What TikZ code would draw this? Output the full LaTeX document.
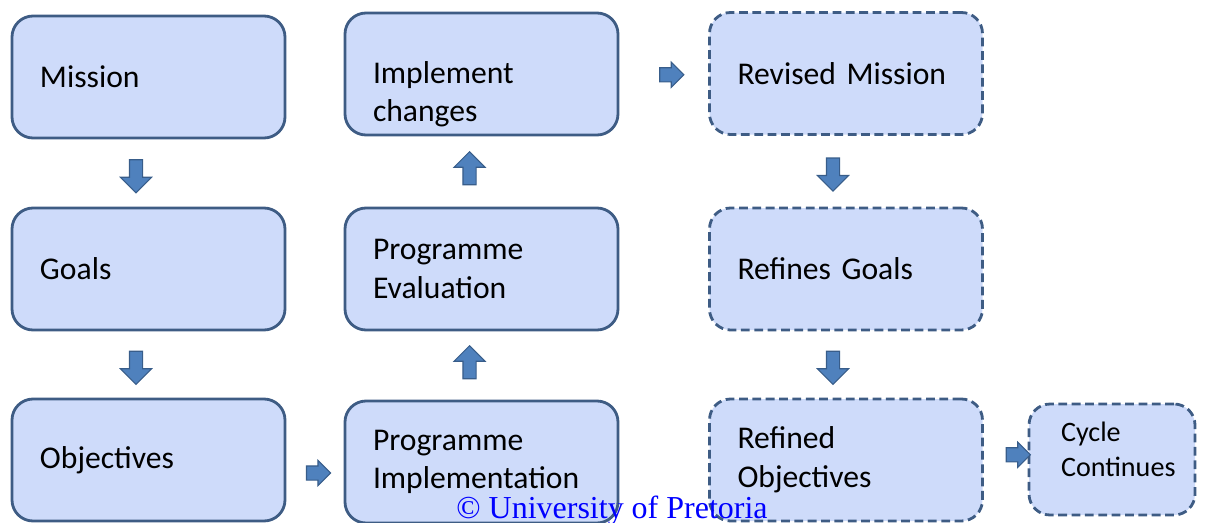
\documentclass[tikz,border=0pt]{standalone}
\usepackage{fontspec}
\setmainfont{Carlito}
\newfontfamily\serifnote{Liberation Serif}
\usepackage{tikz}
\usetikzlibrary{shapes.arrows}
\usetikzlibrary{positioning}
\usetikzlibrary{calc}
\definecolor{boxfill}{RGB}{206,219,250}
\definecolor{boxline}{RGB}{62,92,132}
\definecolor{arrowfill}{RGB}{79,129,189}
\definecolor{arrowline}{RGB}{56,93,138}

\tikzset{
  stage/.style={draw=boxline, fill=boxfill, line width=1.6pt, rounded corners=0.42cm,
    minimum width=5.46cm, minimum height=2.44cm, inner xsep=0.56cm,
    text width=4.34cm, align=left, font=\fontsize{18}{22}\selectfont},
  nextstage/.style={stage, dash pattern=on 5pt off 2.6pt},
  blockdown/.style={single arrow, draw=arrowline, fill=arrowfill, line width=0.6pt,
    minimum height=0.66cm, single arrow head extend=0.18cm,
    inner sep=0.12cm, shape border rotate=270},
  blockup/.style={blockdown, shape border rotate=90},
  blockright/.style={single arrow, draw=arrowline, fill=arrowfill, line width=0.6pt,
    minimum height=0.48cm, single arrow head extend=0.11cm,
    inner sep=0.13cm}
}

\begin{document}
\begin{tikzpicture}
      \useasboundingbox (0,0) rectangle (24.16,-10.44);

      \node[stage]     (mission)    at ( 2.97,-1.54) {Mission};
      \node[stage]     (goals)      at ( 2.97,-5.38) {Goals};
      \node[stage]     (objectives) at ( 2.97,-9.20) {Objectives};
      \node[stage, text height=1.25cm] (changes) at ( 9.63,-1.48) {Implement\\changes};
      \node[stage]     (evaluation) at ( 9.63,-5.38) {Programme\\Evaluation};
      \node[stage]     (implement)  at ( 9.63,-9.24) {Programme\\Implementation};
      \node[nextstage] (revmission) at (16.92,-1.47) {Revised Mission};
      \node[nextstage] (revgoals)   at (16.92,-5.38) {Refines Goals};
      \node[nextstage] (revobj)     at (16.92,-9.20) {Refined\\Objectives};
      \node[nextstage, minimum width=3.32cm, minimum height=2.22cm, inner xsep=0.64cm,
            text width=2.04cm, text depth=1.1cm, font=\fontsize{16}{19.5}\selectfont]
                       (cycle)      at (22.24,-9.19) {Cycle\\Continues};

      \node[blockdown]  (a1) at ($(mission.south)!0.5!(goals.north)+(-0.25,0)$) {};
      \node[blockdown]  (a2) at ($(goals.south)!0.5!(objectives.north)+(-0.25,0)$) {};
      \node[blockright] (a3) at ($(objectives.east)!0.5!(implement.west)+(0,-0.24)$) {};
      \node[blockup]    (a4) at ($(implement.north)!0.5!(evaluation.south)+(-0.24,0)$) {};
      \node[blockup]    (a5) at ($(evaluation.north)!0.5!(changes.south)+(-0.24,0)$) {};
      \node[blockright] (a6) at ($(changes.east)!0.5!(revmission.west)+(0.09,-0.02)$) {};
      \node[blockdown]  (a7) at ($(revmission.south)!0.5!(revgoals.north)+(-0.26,0)$) {};
      \node[blockdown]  (a8) at ($(revgoals.south)!0.5!(revobj.north)+(-0.26,0)$) {};
      \node[blockright] (a9) at ($(revobj.east)!0.5!(cycle.west)+(0.18,0.1)$) {};

      \node[anchor=base, text=blue, font=\serifnote\fontsize{18.2}{20}\selectfont]
            (rights) at (12.24,-10.36) {\textcopyright\ University of Pretoria};
    \end{tikzpicture}
\end{document}
